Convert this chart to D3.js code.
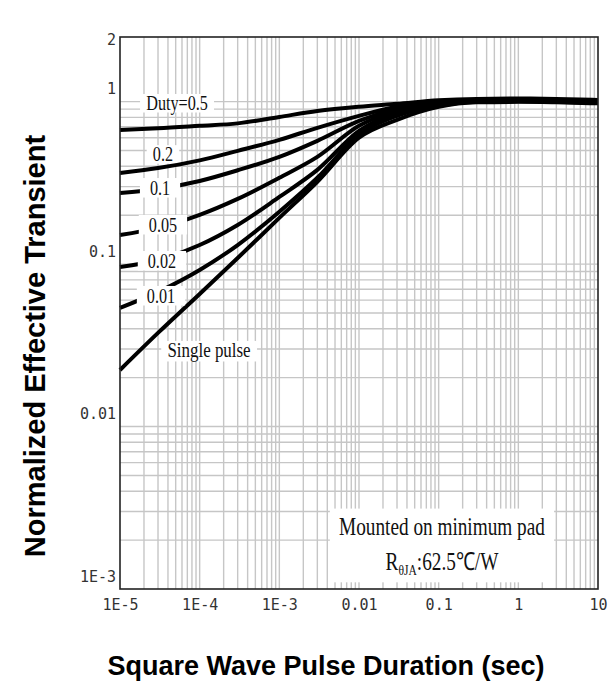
<!DOCTYPE html>
<html>
<head>
<meta charset="utf-8">
<script src="https://cdn.jsdelivr.net/npm/d3@7"></script>
<style>
  body { margin: 0; background: #fff; }
</style>
</head>
<body>
<script>
// size of the page and the plot box
var w = 610;
var h = 685;
var margin = {left: 120, right: 12, top: 37, bottom: 96};

// pulse durations (sec) where the curves were read
var pulseTimes = [1e-5, 3e-5, 1e-4, 3e-4, 1e-3, 3e-3, 0.01, 0.03, 0.1, 0.3, 1, 3, 10];

// normalized effective transient thermal impedance, one array per duty cycle
var duty05 = [0.67, 0.685, 0.71, 0.735, 0.805, 0.875, 0.93, 0.97, 1.02, 1.04, 1.045, 1.04, 1.025];
var duty02 = [0.364, 0.39, 0.435, 0.498, 0.582, 0.69, 0.818, 0.93, 0.997, 1.025, 1.033, 1.025, 1.01];
var duty01 = [0.274, 0.29, 0.325, 0.378, 0.457, 0.574, 0.762, 0.903, 0.983, 1.019, 1.025, 1.019, 1.004];
var duty005 = [0.151, 0.167, 0.201, 0.252, 0.34, 0.457, 0.71, 0.878, 0.969, 1.011, 1.019, 1.011, 0.997];
var duty002 = [0.096, 0.106, 0.131, 0.174, 0.259, 0.38, 0.661, 0.853, 0.956, 1.004, 1.011, 1.004, 0.99];
var duty001 = [0.0537, 0.0674, 0.092, 0.131, 0.21, 0.34, 0.626, 0.818, 0.942, 0.997, 1.004, 0.997, 0.983];
var singlePulse = [0.0223, 0.0377, 0.0655, 0.109, 0.1925, 0.321, 0.60, 0.773, 0.929, 0.99, 0.997, 0.99, 0.976];

var allSeries = [duty05, duty02, duty01, duty005, duty002, duty001, singlePulse];

// curve labels and where they sit (pulse time, value)
var curveLabels = ["Duty=0.5", "0.2", "0.1", "0.05", "0.02", "0.01", "Single pulse"];
var labelTimes = [5.2e-5, 3.46e-5, 3.18e-5, 3.46e-5, 3.36e-5, 3.27e-5, 1.31e-4];
var labelValues = [0.888, 0.43, 0.266, 0.1576, 0.0946, 0.0576, 0.0268];
// labels whose white box cuts the curve
var labelCutsCurve = [false, false, true, true, true, true, false];

// axis ticks
var xTicks = [1e-5, 1e-4, 1e-3, 0.01, 0.1, 1, 10];
var xTickLabels = ["1E-5", "1E-4", "1E-3", "0.01", "0.1", "1", "10"];
var yTicks = [1e-3, 0.01, 0.1, 1, 2];
var yTickLabels = ["1E-3", "0.01", "0.1", "1", "2"];

var noteTime = 0.11;
var noteValues = [0.00215, 0.00131];

var serif = "'Liberation Serif', 'Times New Roman', serif";
var mono = "'DejaVu Sans Mono', 'Liberation Mono', monospace";
var squeeze = 0.77;   // the scanned text is narrow

//main svg element
var svg = d3.select("body")
            .append("svg")
            .attr("width", w)
            .attr("height", h);

var x = d3.scaleLog()
  .domain([1e-5, 10])
  .range([margin.left, w - margin.right]);

var y = d3.scaleLog()
  .domain([1e-3, 2.5])
  .range([h - margin.bottom, margin.top]);

// layers
var gGrid = svg.append("g");
var gUnder = svg.append("g");
var gCurves = svg.append("g");
var gOver = svg.append("g");
var gText = svg.append("g");

// log grid lines
var xGrid = [];
for (var e = -5; e <= 0; e++) {
  for (var k = 1; k <= 9; k++) xGrid.push(k * Math.pow(10, e));
}
xGrid = xGrid.filter(function(d) { return d > 1e-5; });
var yGrid = [];
for (var e2 = -3; e2 <= -1; e2++) {
  for (var k2 = 1; k2 <= 9; k2++) yGrid.push(k2 * Math.pow(10, e2));
}
yGrid.push(1);
yGrid = yGrid.filter(function(d) { return d > 1e-3; });

gGrid.selectAll("line.vx")
  .data(xGrid)
  .enter().append("line")
  .attr("x1", function(d) { return x(d); })
  .attr("x2", function(d) { return x(d); })
  .attr("y1", y(1e-3))
  .attr("y2", y(2.5))
  .attr("stroke", "#c6c6c6")
  .attr("stroke-width", 1.4);

gGrid.selectAll("line.hy")
  .data(yGrid)
  .enter().append("line")
  .attr("x1", x(1e-5))
  .attr("x2", x(10))
  .attr("y1", function(d) { return y(d); })
  .attr("y2", function(d) { return y(d); })
  .attr("stroke", "#c6c6c6")
  .attr("stroke-width", 1.4);

// curves
var line = d3.line()
  .x(function(d, i) { return x(pulseTimes[i]); })
  .y(function(d) { return y(d); })
  .curve(d3.curveMonotoneX);

gCurves.selectAll("path")
  .data(allSeries)
  .enter().append("path")
  .attr("d", function(d) { return line(d); })
  .attr("fill", "none")
  .attr("stroke", "#000")
  .attr("stroke-width", 4);

// curve labels with white boxes behind them
curveLabels.forEach(function(txt, i) {
  var tr = "translate(" + x(labelTimes[i]) + "," + y(labelValues[i]) + ") scale(" + squeeze + ",1)";
  var t = gText.append("text")
    .attr("transform", tr)
    .attr("text-anchor", "middle")
    .attr("font-family", serif)
    .attr("font-size", i === 6 ? 22 : 21)
    .attr("fill", "#111")
    .text(txt);
  var b = t.node().getBBox();
  var padX = labelCutsCurve[i] ? 13 : 8;
  var top = labelCutsCurve[i] ? b.y + 2 : b.y + 3;
  var bottom = i === 6 ? b.y + b.height : b.y + b.height - 2;
  (labelCutsCurve[i] ? gOver : gUnder).append("rect")
    .attr("transform", tr)
    .attr("x", b.x - padX)
    .attr("y", top)
    .attr("width", b.width + 2 * padX)
    .attr("height", bottom - top)
    .attr("fill", "#fff");
});

// mounting note
var note = gText.append("g")
  .attr("transform", "translate(" + x(noteTime) + ",0) scale(" + squeeze + ",1)");
var noteBox = note.append("rect").attr("fill", "#fff");
note.append("text")
  .attr("y", y(noteValues[0]))
  .attr("text-anchor", "middle")
  .attr("font-family", serif)
  .attr("font-size", 25)
  .attr("fill", "#111")
  .text("Mounted on minimum pad");
var n2 = note.append("text")
  .attr("y", y(noteValues[1]))
  .attr("text-anchor", "middle")
  .attr("font-family", serif)
  .attr("font-size", 25)
  .attr("fill", "#111");
n2.append("tspan").text("R");
n2.append("tspan").attr("font-size", 15).attr("dy", 5).text("θJA");
n2.append("tspan").attr("dy", -5).text(":62.5℃/W");
var nb = note.node().getBBox();
noteBox.attr("x", nb.x - 12).attr("y", nb.y - 4)
  .attr("width", nb.width + 24).attr("height", nb.height + 8);

// frame
svg.append("rect")
  .attr("x", x(1e-5))
  .attr("y", y(2.5))
  .attr("width", x(10) - x(1e-5))
  .attr("height", y(1e-3) - y(2.5))
  .attr("fill", "none")
  .attr("stroke", "#222")
  .attr("stroke-width", 1.6);

// axes
var xAxis = d3.axisBottom(x)
  .tickValues(xTicks)
  .tickFormat(function(d, i) { return xTickLabels[i]; })
  .tickSize(0)
  .tickPadding(10);

svg.append("g")
  .attr("transform", "translate(0," + y(1e-3) + ")")
  .call(xAxis)
  .attr("font-family", mono)
  .attr("font-size", 15)
  .call(function(g) { g.select(".domain").remove(); })
  .selectAll("text").attr("fill", "#333");

var yAxis = d3.axisLeft(y)
  .tickValues(yTicks)
  .tickFormat(function(d, i) { return yTickLabels[i]; })
  .tickSize(0)
  .tickPadding(4);

svg.append("g")
  .attr("transform", "translate(" + x(1e-5) + ",0)")
  .call(yAxis)
  .attr("font-family", mono)
  .attr("font-size", 15)
  .call(function(g) { g.select(".domain").remove(); })
  .selectAll("text").attr("fill", "#333").attr("dy", -8);

// axis titles
svg.append("text")
  .attr("transform", "translate(45,346) rotate(-90)")
  .attr("text-anchor", "middle")
  .attr("font-family", "'Liberation Sans', Arial, sans-serif")
  .attr("font-weight", "bold")
  .attr("font-size", 29)
  .text("Normalized Effective Transient");

svg.append("text")
  .attr("x", 326)
  .attr("y", 675)
  .attr("text-anchor", "middle")
  .attr("font-family", "'Liberation Sans', Arial, sans-serif")
  .attr("font-weight", "bold")
  .attr("font-size", 27)
  .text("Square Wave Pulse Duration (sec)");
</script>
</body>
</html>
